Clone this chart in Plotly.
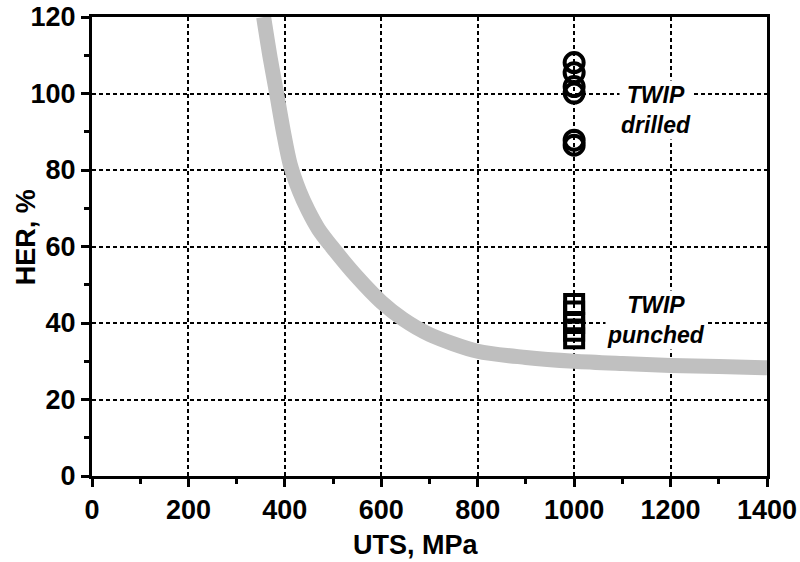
import plotly.graph_objects as go

# Trend band (grey curve)
curve_uts = [356, 370, 383, 397, 411, 430, 448, 470, 497, 550, 600, 645, 700, 800, 900, 1000, 1100, 1200, 1300, 1400]
curve_her = [120, 109, 100, 90.0, 81.5, 74.5, 69.5, 64.5, 60.0, 52.0, 45.5, 41.0, 37.0, 32.6, 31.0, 30.0, 29.4, 28.9, 28.6, 28.3]

# TWIP drilled (circles)
drilled_uts = [1000, 1000, 1000, 1000, 1000, 1000]
drilled_her = [108.1, 105.4, 101.8, 100.1, 87.8, 86.5]

# TWIP punched (squares)
punched_uts = [1000, 1000, 1000, 1000, 1000]
punched_her = [45.0, 43.0, 40.0, 38.0, 36.0]

x_ticks = [0, 200, 400, 600, 800, 1000, 1200, 1400]
y_ticks = [0, 20, 40, 60, 80, 100, 120]

FONT = "Liberation Sans, Arial, sans-serif"

fig = go.Figure()
fig.add_trace(go.Scatter(x=curve_uts, y=curve_her, mode="lines",
                         line=dict(color="#c0c0c0", width=15, shape="spline", smoothing=0.8),
                         hoverinfo="skip", showlegend=False))
fig.add_trace(go.Scatter(x=drilled_uts, y=drilled_her, mode="markers",
                         marker=dict(symbol="circle-open", size=19, color="black",
                                     line=dict(color="black", width=4)),
                         showlegend=False))
fig.add_trace(go.Scatter(x=punched_uts, y=punched_her, mode="markers",
                         marker=dict(symbol="square-open", size=18, color="black",
                                     line=dict(color="black", width=4)),
                         showlegend=False))

fig.add_annotation(x=1169, y=95.8, text="<b><i>TWIP<br>drilled</i></b>", showarrow=False,
                   font=dict(family=FONT, size=23, color="black"), bgcolor="white",
                   xanchor="center", yanchor="middle")
fig.add_annotation(x=1169, y=40.9, text="<b><i>TWIP<br>punched</i></b>", showarrow=False,
                   font=dict(family=FONT, size=23, color="black"), bgcolor="white",
                   xanchor="center", yanchor="middle")

# axis titles
fig.add_annotation(xref="paper", yref="paper", x=0.48, y=-0.150, text="<b>UTS, MPa</b>",
                   showarrow=False, font=dict(family=FONT, size=27, color="black"),
                   xanchor="center", yanchor="middle")
fig.add_annotation(xref="paper", yref="paper", x=-0.0978, y=0.52, text="<b>HER, %</b>",
                   showarrow=False, textangle=-90, font=dict(family=FONT, size=27, color="black"),
                   xanchor="center", yanchor="middle")

axis_common = dict(showline=True, linecolor="black", linewidth=3, mirror=True,
                   ticks="outside", ticklen=8, tickwidth=3, tickcolor="black",
                   showgrid=True, gridcolor="black", gridwidth=1.5, griddash="4px,3px",
                   zeroline=False, automargin=False,
                   tickfont=dict(family=FONT, size=27, color="black"))

fig.update_xaxes(**axis_common, range=[0, 1400], tickvals=x_ticks,
                 ticktext=[f"<b>{v}</b>" for v in x_ticks],
                 minor=dict(dtick=100, tick0=0, ticks="outside", ticklen=5, tickwidth=3,
                            tickcolor="black", showgrid=False))
fig.update_yaxes(**axis_common, range=[0, 120], tickvals=y_ticks,
                 ticktext=[f"<b>{v}</b>" for v in y_ticks],
                 minor=dict(dtick=10, tick0=0, ticks="outside", ticklen=5, tickwidth=3,
                            tickcolor="black", showgrid=False))

fig.update_layout(width=800, height=562, margin=dict(l=92, r=33, t=17, b=86),
                  plot_bgcolor="white", paper_bgcolor="white", showlegend=False)

fig.write_html("out.html")
